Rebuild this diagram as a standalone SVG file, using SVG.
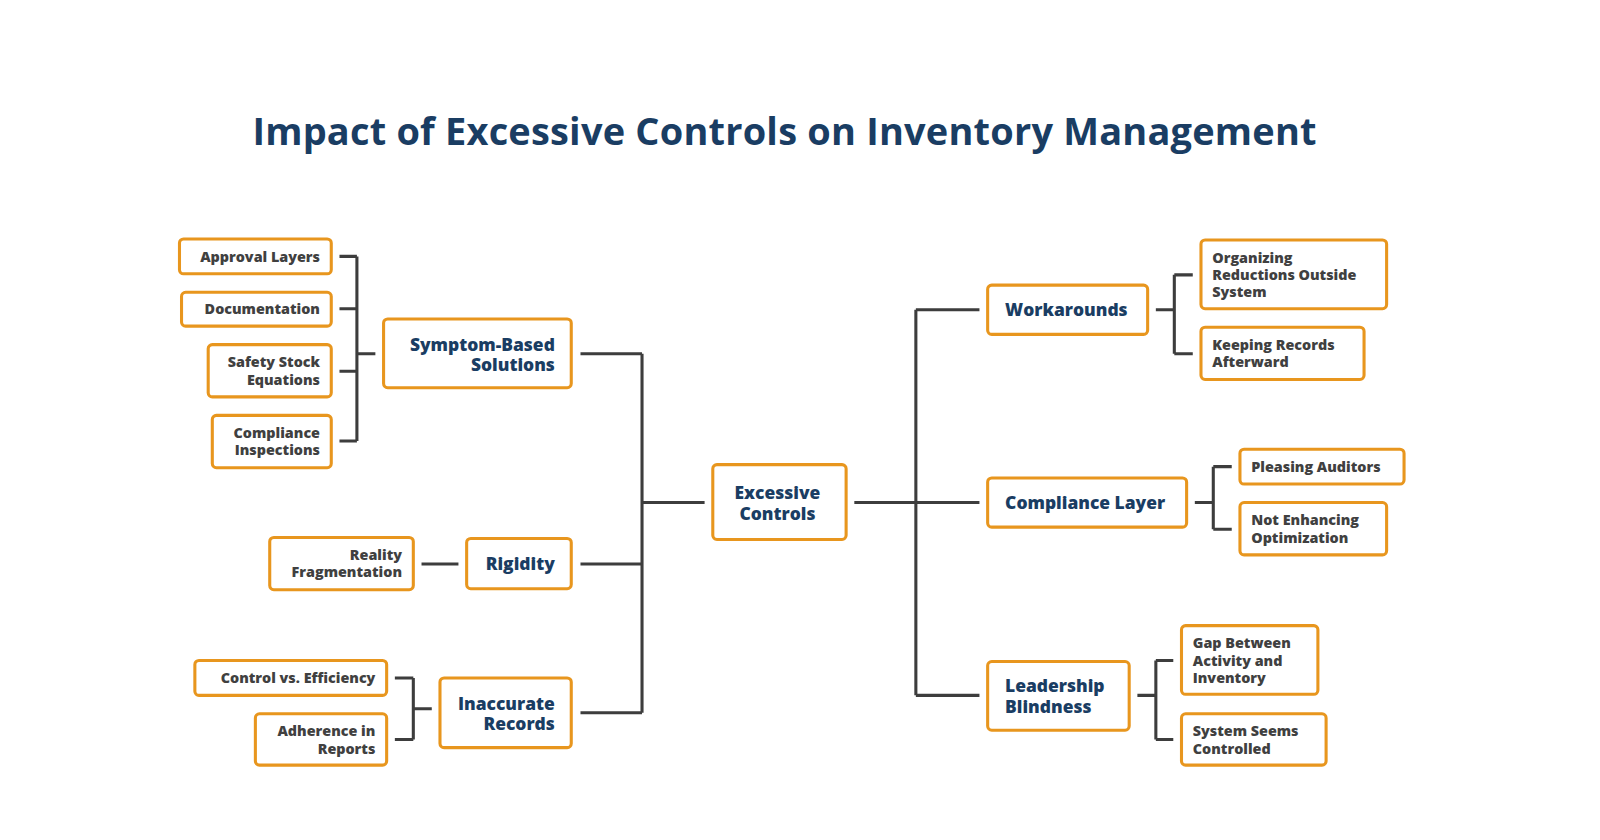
<svg xmlns="http://www.w3.org/2000/svg" width="1600" height="840" viewBox="0 0 1600 840">
<style>
.n{fill:#fff;stroke:#e8961e;stroke-width:3}
.t{font-family:"Open Sans","Liberation Sans",sans-serif;font-weight:800;font-size:14px;fill:#404040;letter-spacing:0px}
.m{font-family:"Open Sans","Liberation Sans",sans-serif;font-weight:800;font-size:17px;fill:#1a3d63;letter-spacing:0px}
.r{text-anchor:end}
.c{fill:none;stroke:#3d3d3d;stroke-width:3}
</style>
<rect width="1600" height="840" fill="#fff"/>
<g transform="scale(1.0256)">
<text x="765" y="141" text-anchor="middle" style="font-family:'Open Sans','Liberation Sans',sans-serif;font-weight:700;font-size:37px;letter-spacing:0.2px;fill:#1a3d63">Impact of Excessive Controls on Inventory Management</text>
<g id="connectors" class="c">
<path d="M331 250H348M331 301H348M331 362H348M331 430H348M348 250V430M348 345H366"/>
<path d="M566 345H626M566 550H626M566 695H626M626 345V695M626 490H687"/>
<path d="M411 550H447"/>
<path d="M385 661H403M385 721H403M403 661V721M403 691H421"/>
<path d="M833 490H893M893 302V678M893 302H955M893 490H955M893 678H955"/>
<path d="M1127 302H1145M1145 268V345M1145 268H1163M1145 345H1163"/>
<path d="M1165 490H1183M1183 455V516M1183 455H1201M1183 516H1201"/>
<path d="M1109 678H1127M1127 644V721M1127 644H1144M1127 721H1144"/>
</g>
<g id="approval"><rect class="n" x="175" y="233" width="148" height="34" rx="4"/><text class="t r" x="312" y="255">Approval Layers</text></g>
<g id="documentation"><rect class="n" x="177" y="285" width="146" height="33" rx="4"/><text class="t r" x="312" y="306">Documentation</text></g>
<g id="safety"><rect class="n" x="203" y="336" width="120" height="51" rx="4"/><text class="t r" x="312" y="358">Safety Stock</text><text class="t r" x="312" y="375">Equations</text></g>
<g id="inspections"><rect class="n" x="207" y="405" width="116" height="51" rx="4"/><text class="t r" x="312" y="427">Compliance</text><text class="t r" x="312" y="444">Inspections</text></g>
<g id="symptom"><rect class="n" x="374" y="311" width="183" height="67" rx="4"/><text class="m r" x="541" y="342">Symptom-Based</text><text class="m r" x="541" y="362">Solutions</text></g>
<g id="reality"><rect class="n" x="263" y="524" width="140" height="51" rx="4"/><text class="t r" x="392" y="546">Reality</text><text class="t r" x="392" y="563">Fragmentation</text></g>
<g id="rigidity"><rect class="n" x="455" y="525" width="102" height="49" rx="4"/><text class="m r" x="541" y="556">Rigidity</text></g>
<g id="control"><rect class="n" x="190" y="644" width="187" height="34" rx="4"/><text class="t r" x="366" y="666">Control vs. Efficiency</text></g>
<g id="adherence"><rect class="n" x="249" y="696" width="128" height="50" rx="4"/><text class="t r" x="366" y="718">Adherence in</text><text class="t r" x="366" y="735">Reports</text></g>
<g id="inaccurate"><rect class="n" x="429" y="661" width="128" height="68" rx="4"/><text class="m r" x="541" y="692">Inaccurate</text><text class="m r" x="541" y="712">Records</text></g>
<g id="excessive"><rect class="n" x="695" y="453" width="130" height="73" rx="4"/><text class="m" x="758" y="487" text-anchor="middle">Excessive</text><text class="m" x="758" y="507" text-anchor="middle">Controls</text></g>
<g id="workarounds"><rect class="n" x="963" y="278" width="156" height="48" rx="4"/><text class="m" x="980" y="308">Workarounds</text></g>
<g id="organizing"><rect class="n" x="1171" y="234" width="181" height="67" rx="4"/><text class="t" x="1182" y="256">Organizing</text><text class="t" x="1182" y="273">Reductions Outside</text><text class="t" x="1182" y="290">System</text></g>
<g id="keeping"><rect class="n" x="1171" y="319" width="159" height="51" rx="4"/><text class="t" x="1182" y="341">Keeping Records</text><text class="t" x="1182" y="358">Afterward</text></g>
<g id="compliance"><rect class="n" x="963" y="466" width="194" height="48" rx="4"/><text class="m" x="980" y="496">Compliance Layer</text></g>
<g id="pleasing"><rect class="n" x="1209" y="438" width="160" height="34" rx="4"/><text class="t" x="1220" y="460">Pleasing Auditors</text></g>
<g id="notenhancing"><rect class="n" x="1209" y="490" width="143" height="51" rx="4"/><text class="t" x="1220" y="512">Not Enhancing</text><text class="t" x="1220" y="529">Optimization</text></g>
<g id="leadership"><rect class="n" x="963" y="645" width="138" height="67" rx="4"/><text class="m" x="980" y="675">Leadership</text><text class="m" x="980" y="695">Blindness</text></g>
<g id="gap"><rect class="n" x="1152" y="610" width="133" height="67" rx="4"/><text class="t" x="1163" y="632">Gap Between</text><text class="t" x="1163" y="649">Activity and</text><text class="t" x="1163" y="666">Inventory</text></g>
<g id="seems"><rect class="n" x="1152" y="696" width="141" height="50" rx="4"/><text class="t" x="1163" y="718">System Seems</text><text class="t" x="1163" y="735">Controlled</text></g>
</g>
</svg>
